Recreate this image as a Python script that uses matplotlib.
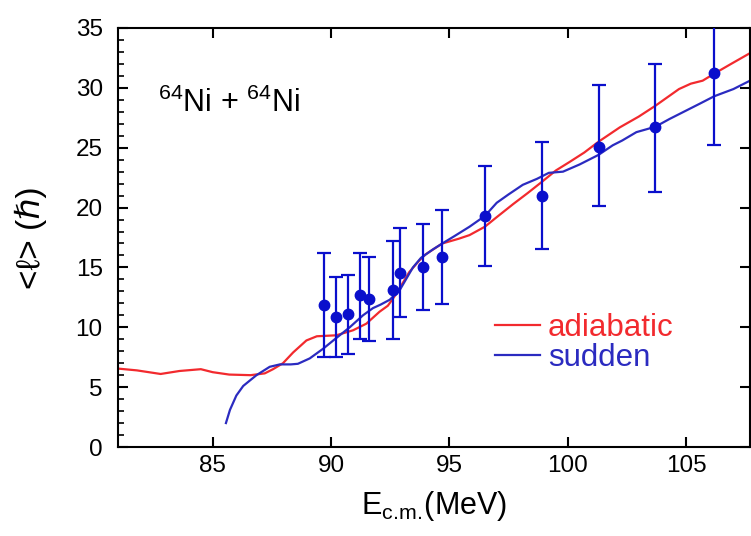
import matplotlib
matplotlib.use("Agg")
import matplotlib.pyplot as plt
from matplotlib.ticker import MultipleLocator

plt.rcParams['font.family'] = ['Liberation Sans', 'DejaVu Sans']
plt.rcParams['mathtext.fontset'] = 'custom'
plt.rcParams['mathtext.rm'] = 'Liberation Sans'
plt.rcParams['mathtext.it'] = 'Liberation Sans:italic'

# Coupled-channels predictions for the mean angular momentum
adiabatic_e = [81.0, 81.8, 82.8, 83.6, 84.5, 85.0, 85.7, 86.6, 87.2, 87.55, 87.97,
               88.4, 88.96, 89.4, 90.22, 90.93, 91.49, 92.05, 92.4, 92.76, 93.3,
               93.74, 94.0, 94.7, 95.4, 95.85, 96.5, 97.0, 97.7, 98.3, 98.94,
               99.5, 100.07, 100.7, 101.3, 102.2, 103.0, 103.7, 104.2, 104.7,
               105.2, 105.7, 106.2, 106.9, 107.7]
adiabatic_l = [6.55, 6.4, 6.1, 6.35, 6.5, 6.25, 6.05, 6.0, 6.15, 6.5, 7.0,
               7.9, 8.9, 9.25, 9.33, 9.75, 10.3, 11.3, 11.8, 12.8, 14.6,
               15.6, 16.1, 17.0, 17.4, 17.7, 18.4, 19.2, 20.3, 21.2, 22.2,
               23.1, 23.8, 24.6, 25.5, 26.7, 27.6, 28.5, 29.2, 29.9,
               30.35, 30.6, 31.2, 32.0, 32.9]

sudden_e = [85.56, 85.73, 86.0, 86.29, 86.6, 86.85, 87.41, 87.84, 88.3, 88.6,
            89.1, 89.66, 90.22, 90.79, 91.35, 91.77, 92.1, 92.48, 92.9, 93.46,
            93.8, 94.3, 94.7, 95.2, 95.85, 96.5, 97.0, 97.5, 98.1, 98.7, 99.2,
            99.8, 100.5, 101.3, 101.9, 102.3, 102.9, 103.7, 104.3, 105.0,
            105.6, 106.19, 107.0, 107.7]
sudden_l = [2.0, 3.1, 4.3, 5.1, 5.6, 6.0, 6.7, 6.9, 6.9, 6.95,
            7.4, 8.2, 9.1, 10.0, 11.0, 11.6, 11.9, 12.3, 13.1, 15.0,
            15.8, 16.5, 17.0, 17.6, 18.4, 19.3, 20.4, 21.1, 21.9, 22.4, 22.9,
            23.0, 23.6, 24.4, 25.2, 25.6, 26.3, 26.75, 27.4, 28.1,
            28.7, 29.3, 29.9, 30.6]

# Measured mean angular momentum with asymmetric uncertainties
exp_e = [89.69, 90.22, 90.72, 91.21, 91.6, 92.61, 92.92, 93.9, 94.69,
         96.5, 98.9, 101.3, 103.7, 106.19]
exp_l = [11.83, 10.86, 11.08, 12.67, 12.33, 13.14, 14.53, 15.0, 15.86,
         19.3, 21.0, 25.1, 26.7, 31.27]
exp_hi = [16.2, 14.2, 14.4, 16.2, 15.86, 17.2, 18.3, 18.6, 19.8,
          23.5, 25.5, 30.25, 32.0, 37.3]
exp_lo = [7.5, 7.5, 7.8, 9.06, 8.86, 9.06, 10.86, 11.47, 11.97,
          15.1, 16.5, 20.1, 21.3, 25.2]

x_ticks = [85, 90, 95, 100, 105]
y_ticks = [0, 5, 10, 15, 20, 25, 30, 35]

red = '#f22a2e'
blue = '#2b2bc0'
dot = '#0a0fcc'

fig = plt.figure(figsize=(7.51, 5.36), dpi=100)
ax = fig.add_axes([118 / 751, 89 / 536, 632 / 751, 419 / 536])

ax.plot(adiabatic_e, adiabatic_l, color=red, lw=1.6, label='adiabatic')
ax.plot(sudden_e, sudden_l, color=blue, lw=1.6, label='sudden')

yerr = [[c - lo for c, lo in zip(exp_l, exp_lo)],
        [hi - c for c, hi in zip(exp_l, exp_hi)]]
ax.errorbar(exp_e, exp_l, yerr=yerr, fmt='o', color=dot, ecolor=dot,
            ms=7.5, elinewidth=1.6, capsize=5, capthick=1.6, zorder=3)

ax.set_xlim(81.0, 107.7)
ax.set_ylim(0, 35)
ax.set_xticks(x_ticks)
ax.set_yticks(y_ticks)
ax.yaxis.set_minor_locator(MultipleLocator(1))

for s in ax.spines.values():
    s.set_linewidth(1.5)

ax.tick_params(axis='both', which='major', direction='in', length=7, width=1.5,
               labelsize=17.5, top=True, right=True)
ax.tick_params(axis='y', which='major', pad=11)
ax.tick_params(axis='x', which='major', pad=6)
ax.tick_params(axis='y', which='minor', direction='in', length=4, width=1.2,
               left=True, right=False)

ax.set_xlabel(r'E$_{\mathrm{c.\!m.\!}}$(MeV)', fontsize=22)
ax.xaxis.set_label_coords(0.5, -0.1)
ax.set_ylabel('<ℓ> (ℏ)', fontsize=24, va='center')
ax.yaxis.set_label_coords(-0.138, 0.5)

ax.text(0.063, 0.80, r'$^{64}$Ni + $^{64}$Ni', transform=ax.transAxes,
        fontsize=22, ha='left', va='baseline')

leg = ax.legend(loc='center left', bbox_to_anchor=(0.5965, 0.249),
                frameon=False, fontsize=22.5, handlelength=1.45,
                handletextpad=0.25, labelspacing=0.0, borderpad=0,
                borderaxespad=0, labelcolor='linecolor')

fig.savefig('out.png', dpi=100)
